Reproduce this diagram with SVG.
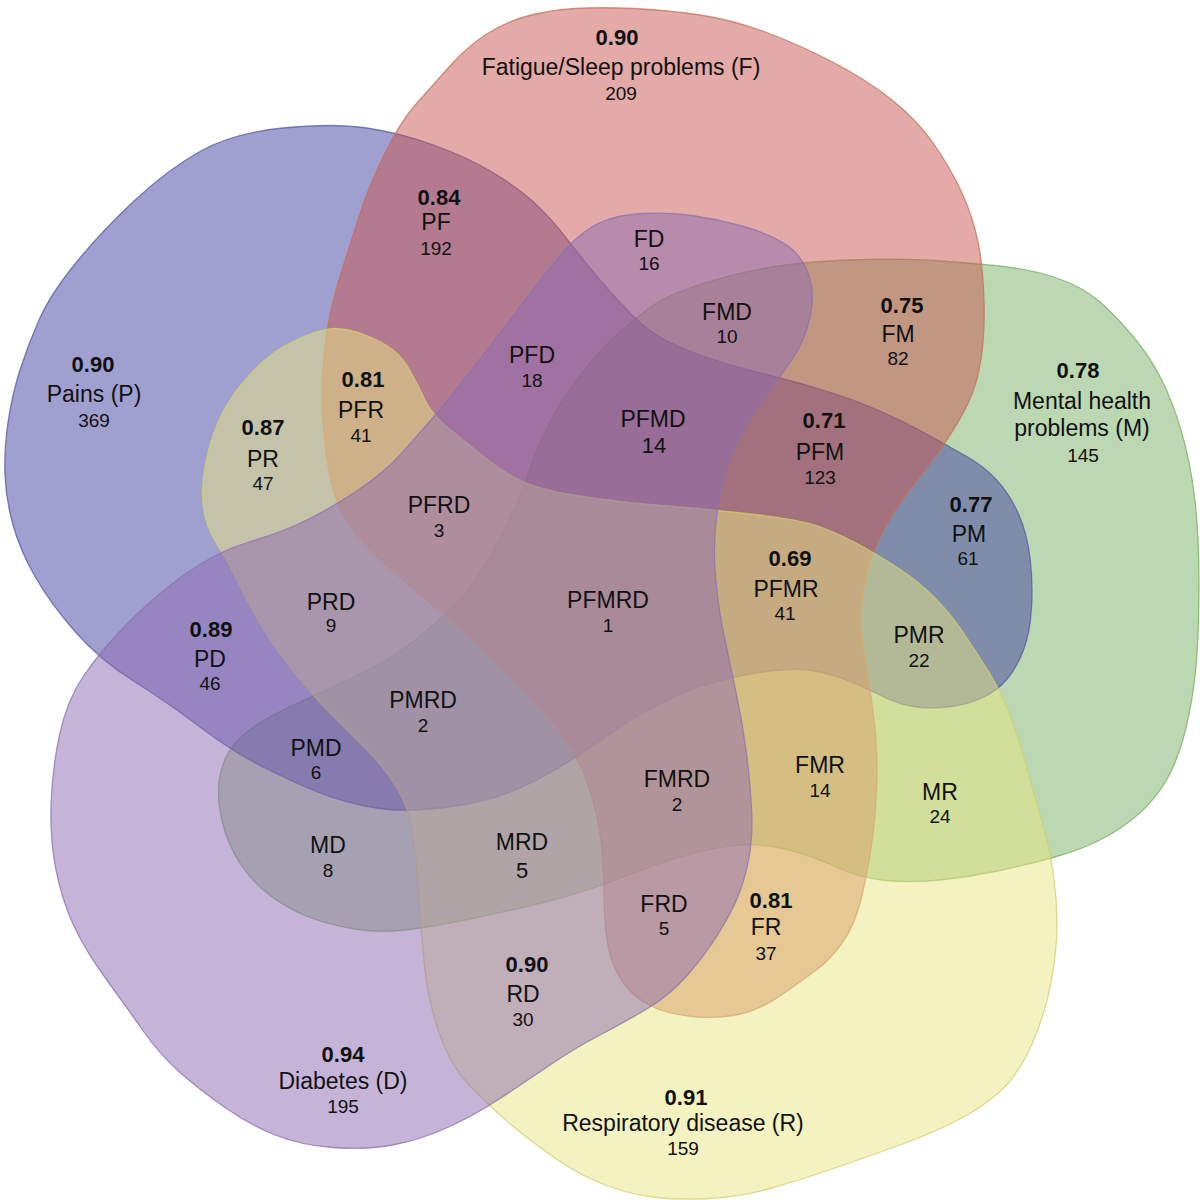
<svg xmlns="http://www.w3.org/2000/svg" width="1200" height="1200" viewBox="0 0 1200 1200">
<style>
.s{fill-opacity:0.5;stroke-width:1.3;stroke-opacity:0.75}
text{font-family:"Liberation Sans",Arial,sans-serif;text-anchor:middle;fill:#111}
.v{font-size:22px;font-weight:bold}
.l{font-size:23px}
.c{font-size:19px}
.cb{font-size:22px}
</style>
<rect width="1200" height="1200" fill="#ffffff"/>
<g id="sets">
<path id="set-M" class="s" fill="#79b165" stroke="#7aae62" d="M582.5,372.5 Q600,350 616.5,335 Q633,320 650,307.5 Q667,295 700,284.5 Q733,274 766.5,268 Q800,262 850,260 Q900,258 941,261 Q982,264 1007.5,267 Q1033,270 1058,278.5 Q1083,287 1100,302 Q1117,317 1133.5,337 Q1150,357 1161,378.5 Q1172,400 1181,430 Q1190,460 1194.5,496.5 Q1199,533 1199,583 Q1199,633 1196,666.5 Q1193,700 1185.5,730 Q1178,760 1166.5,780 Q1155,800 1137.5,815 Q1120,830 1100,840 Q1080,850 1055,857 Q1030,864 1000,870.5 Q970,877 940,880 Q910,883 885,880.5 Q860,878 835,866.5 Q810,855 785,849 Q760,843 738.5,845 Q717,847 692,853.5 Q667,860 642,870 Q617,880 592,888.5 Q567,897 533.5,905 Q500,913 465,920 Q430,927 405,930 Q380,933 355,929 Q330,925 310,917.5 Q290,910 271.5,896.5 Q253,883 240.5,864 Q228,845 222.5,822.5 Q217,800 219,782.5 Q221,765 228.5,752.5 Q236,740 251.5,728.5 Q267,717 300,702 Q333,687 364,672 Q395,657 419,637 Q443,617 455,605 Q467,593 480,572.5 Q493,552 501.5,534.5 Q510,517 516.5,503.5 Q523,490 531.5,465 Q540,440 552.5,417.5 Q565,395 582.5,372.5 Z"/>
<path id="set-P" class="s" fill="#4141a1" stroke="#5656a6" d="M200,151.5 Q233,133 283,128 Q333,123 366.5,128 Q400,133 433.5,145 Q467,157 492,172 Q517,187 533.5,202 Q550,217 566.5,238.5 Q583,260 600,280 Q617,300 633.5,316.5 Q650,333 670,342.5 Q690,352 715,360 Q740,368 770,375.5 Q800,383 827.5,391.5 Q855,400 880,411 Q905,422 927.5,434.5 Q950,447 967.5,457 Q985,467 997.5,481 Q1010,495 1018.5,514 Q1027,533 1030,558 Q1033,583 1031.5,608 Q1030,633 1023.5,650 Q1017,667 1007.5,678.5 Q998,690 984,697 Q970,704 951.5,706.5 Q933,709 916.5,707 Q900,705 885,697.5 Q870,690 852.5,682.5 Q835,675 817.5,671.5 Q800,668 780,670 Q760,672 740,676 Q720,680 701.5,686 Q683,692 658,705 Q633,718 605,737.5 Q577,757 555,770 Q533,783 511.5,791.5 Q490,800 465,804.5 Q440,809 415,810 Q390,811 365,806 Q340,801 317.5,792 Q295,783 264,767.5 Q233,752 200,727 Q167,702 133.5,681 Q100,660 75,631.5 Q50,603 35,576.5 Q20,550 13,525 Q6,500 5,475 Q4,450 8,422.5 Q12,395 20,370 Q28,345 39,320 Q50,295 75,264 Q100,233 133.5,201.5 Q167,170 200,151.5 Z"/>
<path id="set-F" class="s" fill="#c7554f" stroke="#c47058" d="M575,8.5 Q600,7 633.5,8.5 Q667,10 700,15 Q733,20 766.5,32.5 Q800,45 833.5,62.5 Q867,80 892,100 Q917,120 933.5,143.5 Q950,167 961.5,192 Q973,217 978,242 Q983,267 984,300 Q985,333 981,359 Q977,385 968.5,402.5 Q960,420 947.5,439 Q935,458 920,476.5 Q905,495 892.5,515 Q880,535 872.5,555 Q865,575 862.5,596 Q860,617 862,636 Q864,655 868,677.5 Q872,700 875,730 Q878,760 876.5,790 Q875,820 871.5,845 Q868,870 861.5,897.5 Q855,925 842.5,942.5 Q830,960 815,971 Q800,982 780,996 Q760,1010 738.5,1014.5 Q717,1019 692,1016.5 Q667,1014 651,1006 Q635,998 625,985 Q615,972 610.5,956 Q606,940 605,920 Q604,900 603.5,875 Q603,850 598.5,825 Q594,800 586,779 Q578,758 564,738 Q550,718 533.5,700.5 Q517,683 492,658 Q467,633 443.5,614 Q420,595 397.5,575.5 Q375,556 357.5,535.5 Q340,515 333.5,491 Q327,467 324,433.5 Q321,400 323,370 Q325,340 329.5,317.5 Q334,295 342,270 Q350,245 359,216.5 Q368,188 384,155 Q400,122 416.5,103.5 Q433,85 450,66 Q467,47 486,34.5 Q505,22 527.5,16 Q550,10 575,8.5 Z"/>
<path id="set-R" class="s" fill="#e7e581" stroke="#d2cf6c" d="M254,370 Q273,350 298,339 Q323,328 336.5,328.5 Q350,329 366.5,335.5 Q383,342 393,350 Q403,358 410.5,371.5 Q418,385 425,400 Q432,415 449.5,429 Q467,443 483.5,456.5 Q500,470 517.5,479 Q535,488 567.5,494 Q600,500 633.5,503 Q667,506 692,508 Q717,510 758.5,515 Q800,520 817.5,526 Q835,532 854,542 Q873,552 895,566 Q917,580 933.5,596.5 Q950,613 963.5,633 Q977,653 988.5,671.5 Q1000,690 1008.5,711.5 Q1017,733 1025,761.5 Q1033,790 1041.5,820 Q1050,850 1053.5,875 Q1057,900 1057,925 Q1057,950 1051,982.5 Q1045,1015 1031.5,1045 Q1018,1075 1000.5,1091 Q983,1107 958,1120 Q933,1133 900,1145 Q867,1157 833.5,1168.5 Q800,1180 770,1188.5 Q740,1197 710,1198.5 Q680,1200 656.5,1197.5 Q633,1195 608,1186 Q583,1177 558,1160 Q533,1143 511.5,1125 Q490,1107 470,1086 Q450,1065 439,1032.5 Q428,1000 424.5,966.5 Q421,933 419,900 Q417,867 413.5,838.5 Q410,810 397.5,789 Q385,768 367.5,750.5 Q350,733 333.5,716.5 Q317,700 297.5,676.5 Q278,653 264,630 Q250,607 239,584.5 Q228,562 216.5,543.5 Q205,525 203,504 Q201,483 207,456.5 Q213,430 224,410 Q235,390 254,370 Z"/>
<path id="set-D" class="s" fill="#8d69b1" stroke="#8a72b0" d="M600,222.5 Q617,215 642,213.5 Q667,212 692,215.5 Q717,219 742,226 Q767,233 783.5,243 Q800,253 807,270.5 Q814,288 812,305 Q810,322 804,337 Q798,352 784,371 Q770,390 756,410 Q742,430 732,454 Q722,478 717.5,509 Q713,540 715,570 Q717,600 723,630 Q729,660 735.5,690 Q742,720 746,750 Q750,780 751.5,807.5 Q753,835 749,857.5 Q745,880 737.5,897.5 Q730,915 717.5,935 Q705,955 687.5,975 Q670,995 647.5,1008.5 Q625,1022 600,1035 Q575,1048 550,1065 Q525,1082 500,1098.5 Q475,1115 447.5,1127.5 Q420,1140 392.5,1145 Q365,1150 332.5,1147.5 Q300,1145 275,1135 Q250,1125 225,1107.5 Q200,1090 180,1072.5 Q160,1055 142.5,1030 Q125,1005 105,977.5 Q85,950 73.5,925 Q62,900 56,870 Q50,840 51,805 Q52,770 59.5,735 Q67,700 83.5,676 Q100,652 125,626 Q150,600 182.5,576 Q215,552 249,542 Q283,532 308,519.5 Q333,507 359,489.5 Q385,472 401.5,453.5 Q418,435 434,416.5 Q450,398 475,365.5 Q500,333 525,300 Q550,267 566.5,248.5 Q583,230 600,222.5 Z"/>
</g>
<g id="labels">
<g id="label-F"><text class="v" x="617" y="45">0.90</text><text class="l" x="621" y="75">Fatigue/Sleep problems (F)</text><text class="c" x="621" y="100">209</text></g>
<g id="label-P"><text class="v" x="93" y="372">0.90</text><text class="l" x="94" y="402">Pains (P)</text><text class="c" x="94" y="427">369</text></g>
<g id="label-M"><text class="v" x="1078" y="378">0.78</text><text class="l" x="1082" y="409">Mental health</text><text class="l" x="1082" y="436">problems (M)</text><text class="c" x="1083" y="462">145</text></g>
<g id="label-D"><text class="v" x="343" y="1062">0.94</text><text class="l" x="343" y="1089">Diabetes (D)</text><text class="c" x="343" y="1113">195</text></g>
<g id="label-R"><text class="v" x="686" y="1105">0.91</text><text class="l" x="683" y="1131">Respiratory disease (R)</text><text class="c" x="683" y="1155">159</text></g>
<g id="r-PF"><text class="v" x="439" y="205">0.84</text><text class="l" x="436" y="230">PF</text><text class="c" x="436" y="255">192</text></g>
<g id="r-FD"><text class="l" x="649" y="247">FD</text><text class="c" x="649" y="270">16</text></g>
<g id="r-FMD"><text class="l" x="727" y="320">FMD</text><text class="c" x="727" y="343">10</text></g>
<g id="r-PFD"><text class="l" x="532" y="363">PFD</text><text class="c" x="532" y="387">18</text></g>
<g id="r-FM"><text class="v" x="902" y="313">0.75</text><text class="l" x="898" y="342">FM</text><text class="c" x="898" y="365">82</text></g>
<g id="r-PFR"><text class="v" x="363" y="387">0.81</text><text class="l" x="361" y="418">PFR</text><text class="c" x="361" y="442">41</text></g>
<g id="r-PR"><text class="v" x="263" y="435">0.87</text><text class="l" x="263" y="467">PR</text><text class="c" x="263" y="490">47</text></g>
<g id="r-PFMD"><text class="l" x="653" y="427">PFMD</text><text class="cb" x="654" y="453">14</text></g>
<g id="r-PFM"><text class="v" x="824" y="428">0.71</text><text class="l" x="820" y="460">PFM</text><text class="c" x="820" y="484">123</text></g>
<g id="r-PFRD"><text class="l" x="439" y="513">PFRD</text><text class="c" x="439" y="537">3</text></g>
<g id="r-PM"><text class="v" x="971" y="512">0.77</text><text class="l" x="969" y="542">PM</text><text class="c" x="968" y="565">61</text></g>
<g id="r-PFMR"><text class="v" x="790" y="566">0.69</text><text class="l" x="786" y="597">PFMR</text><text class="c" x="785" y="620">41</text></g>
<g id="r-PRD"><text class="l" x="331" y="610">PRD</text><text class="c" x="331" y="632">9</text></g>
<g id="r-PFMRD"><text class="l" x="608" y="608">PFMRD</text><text class="c" x="608" y="632">1</text></g>
<g id="r-PD"><text class="v" x="211" y="637">0.89</text><text class="l" x="210" y="667">PD</text><text class="c" x="210" y="690">46</text></g>
<g id="r-PMR"><text class="l" x="919" y="643">PMR</text><text class="c" x="919" y="667">22</text></g>
<g id="r-PMRD"><text class="l" x="423" y="708">PMRD</text><text class="c" x="423" y="732">2</text></g>
<g id="r-PMD"><text class="l" x="316" y="756">PMD</text><text class="c" x="316" y="779">6</text></g>
<g id="r-FMR"><text class="l" x="820" y="773">FMR</text><text class="c" x="820" y="797">14</text></g>
<g id="r-FMRD"><text class="l" x="677" y="787">FMRD</text><text class="c" x="677" y="811">2</text></g>
<g id="r-MR"><text class="l" x="940" y="800">MR</text><text class="c" x="940" y="823">24</text></g>
<g id="r-MD"><text class="l" x="328" y="853">MD</text><text class="c" x="328" y="877">8</text></g>
<g id="r-MRD"><text class="l" x="522" y="850">MRD</text><text class="cb" x="522" y="878">5</text></g>
<g id="r-FRD"><text class="l" x="664" y="912">FRD</text><text class="c" x="664" y="935">5</text></g>
<g id="r-FR"><text class="v" x="771" y="908">0.81</text><text class="l" x="766" y="935">FR</text><text class="c" x="766" y="960">37</text></g>
<g id="r-RD"><text class="v" x="527" y="972">0.90</text><text class="l" x="523" y="1002">RD</text><text class="c" x="523" y="1026">30</text></g>
</g>
</svg>
